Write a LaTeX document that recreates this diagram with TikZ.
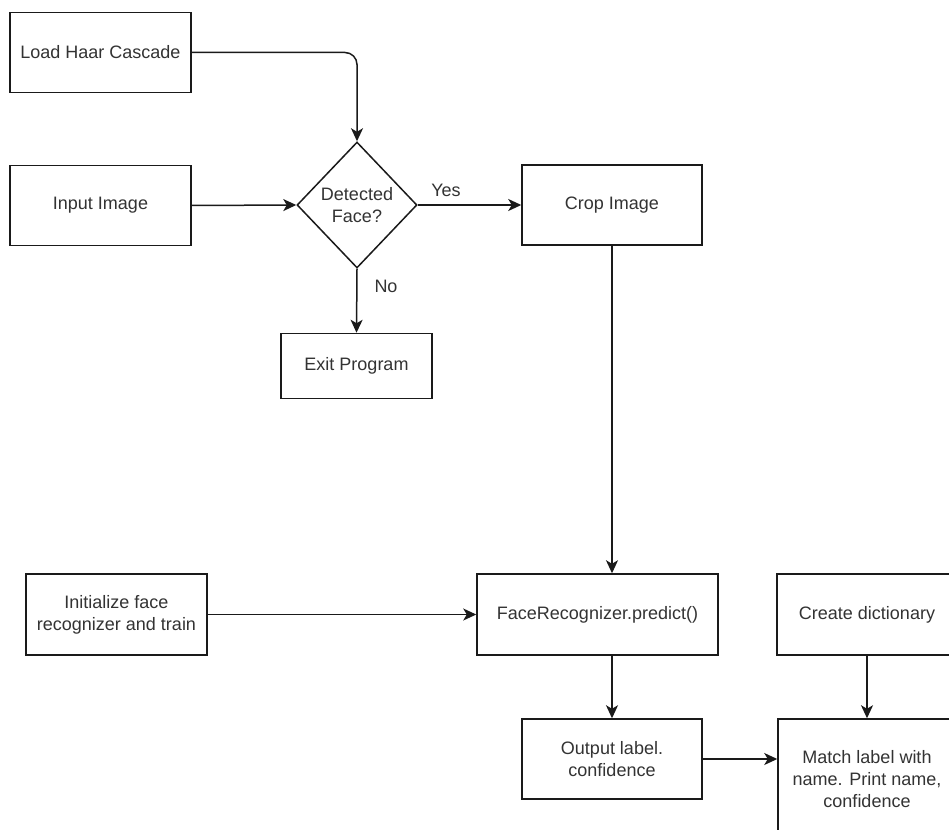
\documentclass[tikz,border=0pt]{standalone}
\usepackage{fontspec}
\setmainfont{Liberation Sans}
\usetikzlibrary{shapes.geometric,arrows.meta}
\definecolor{txt}{HTML}{333333}
\definecolor{ln}{HTML}{1A1A1A}
\begin{document}
\begin{tikzpicture}[x=1pt,y=-1pt,
  font=\fontsize{18}{22}\selectfont,
  box/.style={draw=ln,line width=1.5pt,rectangle,text=txt,align=center,inner sep=0pt},
  decision/.style={draw=ln,line width=1.5pt,diamond,text=txt,align=center,inner sep=0pt,
    minimum width=120pt,minimum height=126pt},
  arr/.style={draw=ln,line width=1.5pt,-{Stealth[length=13pt,width=12pt,inset=3.5pt]}},
  lbl/.style={text=txt,inner sep=0pt}]
\useasboundingbox (0,0) rectangle (949,829);
\clip (0,0) rectangle (949,829);
\fill[white] (0,0) rectangle (949,829);

% first row: loading and input
\node[box,minimum width=181pt,minimum height=80pt] (load) at (100.5,52.5) {Load Haar Cascade};
\node[box,minimum width=181pt,minimum height=80pt] (input) at (100.5,205.5) {Input Image};
\node[decision] (dec) at (357,205) {Detected\\Face?};
\node[box,minimum width=180pt,minimum height=80pt] (crop) at (612,205) {Crop Image};
\node[box,minimum width=151pt,minimum height=65pt] (exit) at (356.5,366) {Exit Program};

% recognition row
\node[box,minimum width=181pt,minimum height=81pt] (init) at (116.5,614.5) {Initialize face\\recognizer and train};
\node[box,minimum width=241pt,minimum height=81pt] (pred) at (597.5,614.5) {FaceRecognizer.predict()};
\node[box,minimum width=180pt,minimum height=81pt] (dict) at (867,614.5) {Create dictionary};

% results
\node[box,minimum width=180pt,minimum height=80pt] (out) at (612,759) {Output label.\\confidence};
\node[box,minimum width=178pt,minimum height=120pt] (match) at (867,779) {Match label with\\name. Print name,\\confidence};

% connectors
\draw[arr,rounded corners=12pt] (load.east) -| (dec.north);
\draw[arr] (input.east) -- (dec.west);
\draw[arr] (dec.east) -- (crop.west);
\node[lbl] (yes) at (446,190) {Yes};
\draw[arr] (dec.south) -- (exit.north);
\node[lbl] (no) at (386,286) {No};
\draw[arr] (crop.south) -- (crop.south |- pred.north);
\draw[arr] (init.east) -- (pred.west);
\draw[arr] (out.north |- pred.south) -- (out.north);
\draw[arr] (dict.south) -- (match.north);
\draw[arr] (out.east) -- (out.east -| match.west);
\end{tikzpicture}
\end{document}
